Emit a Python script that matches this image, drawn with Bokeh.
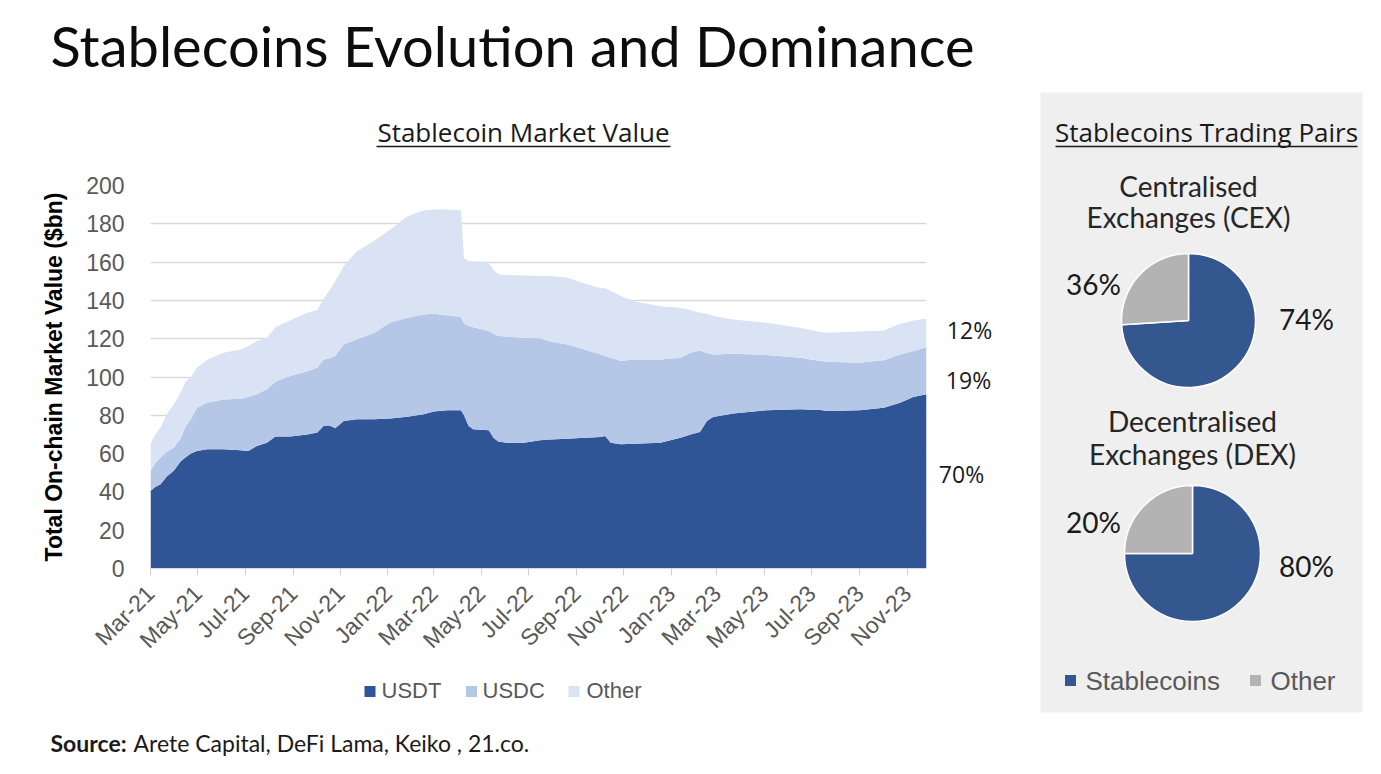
import math
import pandas as pd
from bokeh.plotting import figure
from bokeh.layouts import row, column
from bokeh.models import ColumnDataSource, Range1d, FixedTicker
from bokeh.core.properties import value
from bokeh.embed import file_html
from bokeh.resources import INLINE

# ---------------- data ----------------
dates = ["2021-03-01", "2021-03-07", "2021-03-14", "2021-03-22", "2021-03-31", "2021-04-09",
         "2021-04-15", "2021-04-22", "2021-04-30", "2021-05-13", "2021-06-03", "2021-06-25",
         "2021-07-05", "2021-07-16", "2021-07-29", "2021-08-09", "2021-08-28", "2021-09-19",
         "2021-10-02", "2021-10-10", "2021-10-19", "2021-10-25", "2021-11-05", "2021-11-22",
         "2021-12-14", "2022-01-04", "2022-01-26", "2022-02-16", "2022-03-01", "2022-03-18",
         "2022-04-05", "2022-04-09", "2022-04-15", "2022-04-21", "2022-05-11", "2022-05-17",
         "2022-05-23", "2022-06-03", "2022-06-25", "2022-07-16", "2022-07-29", "2022-08-20",
         "2022-09-06", "2022-10-02", "2022-10-08", "2022-10-15", "2022-10-28", "2022-11-14",
         "2022-12-18", "2023-01-13", "2023-01-26", "2023-02-07", "2023-02-16", "2023-02-24",
         "2023-03-22", "2023-05-04", "2023-06-16", "2023-07-12", "2023-07-23", "2023-09-01",
         "2023-10-02", "2023-10-23", "2023-11-09", "2023-11-26"]
usdt = [40.5, 42.5, 44.0, 48.0, 51.0, 56.0, 58.0, 60.0, 61.4, 62.3, 62.3, 61.7,
        61.4, 64.0, 65.7, 68.9, 68.9, 70.0, 71.0, 74.4, 74.4, 73.2, 77.0, 78.0,
        78.0, 78.3, 79.3, 80.5, 82.0, 82.6, 82.6, 80.0, 74.4, 72.7, 72.2, 68.3,
        66.3, 65.7, 65.7, 67.0, 67.3, 67.7, 68.2, 68.7, 69.2, 65.7, 64.9, 65.2,
        65.7, 68.3, 70.0, 71.3, 77.0, 79.1, 80.9, 82.6, 83.1, 82.8, 82.3, 82.6,
        84.0, 86.6, 89.5, 91.0]
usdc = [10.5, 12.5, 14.0, 13.0, 12.0, 12.0, 16.0, 18.0, 22.6, 24.3, 26.0, 27.0,
        28.1, 27.0, 27.9, 28.6, 31.6, 33.0, 34.0, 34.6, 35.6, 37.8, 40.0, 41.7,
        45.0, 50.2, 51.7, 52.2, 51.0, 49.7, 48.7, 48.0, 52.2, 53.3, 51.8, 54.2,
        55.2, 55.3, 54.8, 53.2, 51.2, 49.3, 46.8, 43.1, 41.8, 44.3, 43.4, 44.0,
        43.5, 41.7, 42.7, 42.6, 35.5, 32.7, 31.3, 28.9, 26.9, 25.5, 25.7, 24.9,
        24.7, 25.2, 24.0, 24.7]
other = [14.0, 15.0, 15.6, 19.5, 22.7, 24.0, 23.5, 22.0, 21.0, 22.4, 24.4, 25.7,
         26.5, 27.8, 26.9, 28.5, 29.1, 30.6, 30.0, 32.0, 36.0, 39.0, 41.0, 46.0,
         48.0, 48.5, 53.0, 54.3, 54.5, 55.2, 55.8, 34.0, 33.9, 34.5, 35.7, 33.5,
         32.1, 32.3, 32.5, 32.5, 34.2, 35.0, 34.5, 34.5, 35.3, 35.0, 34.0, 30.3,
         27.8, 26.2, 22.3, 19.7, 20.5, 20.0, 17.8, 16.8, 15.7, 15.2, 15.1, 16.2,
         15.6, 16.0, 16.0, 14.9]
series_names = ["USDT", "USDC", "Other"]
end_share_labels = ["70%", "19%", "12%"]
tick_labels = ["Mar-21", "May-21", "Jul-21", "Sep-21", "Nov-21", "Jan-22", "Mar-22", "May-22",
               "Jul-22", "Sep-22", "Nov-22", "Jan-23", "Mar-23", "May-23", "Jul-23", "Sep-23",
               "Nov-23"]
y_ticks = [0, 20, 40, 60, 80, 100, 120, 140, 160, 180, 200]

pie_titles = [["Centralised", "Exchanges (CEX)"], ["Decentralised", "Exchanges (DEX)"]]
pie_categories = ["Stablecoins", "Other"]
pie_shares = [[74, 26], [75, 25]]                    # slice sizes as drawn
pie_value_labels = [["74%", "36%"], ["80%", "20%"]]  # labels as printed

# ---------------- styles ----------------
C_USDT, C_USDC, C_OTHER = "#2f5597", "#b4c7e7", "#dae3f3"
SERIES_COLORS = [C_USDT, C_USDC, C_OTHER]
C_PIE_BLUE, C_PIE_GRAY = "#34578f", "#b3b3b3"
GRAY_TXT = "#595959"
ARIAL = "Liberation Sans"


def blank(w, h, xr, yr, **kw):
    f = figure(width=w, height=h, x_range=Range1d(*xr), y_range=Range1d(*yr),
               x_axis_type=None, y_axis_type=None, output_backend="svg",
               toolbar_location=None, min_border=0, **kw)
    f.grid.visible = False
    f.outline_line_color = None
    f.frame_align = False
    return f


LEFT_W = 1038

# ---------------- header ----------------
head = blank(LEFT_W, 160, (0, LEFT_W), (0, 160))
head.text(x=[50], y=[115], text=["Stablecoins Evolution and Dominance"],
          text_font=value("Lato"), text_font_size="56px", text_color="#0d0d0d",
          text_baseline="middle", text_align="left")
head.text(x=[523], y=[29], text=["Stablecoin Market Value"],
          text_font=value("Open Sans"), text_font_size="26px", text_color="#1a1a1a",
          text_baseline="middle", text_align="center")
head.line(x=[376, 670], y=[14, 14], line_color="#1a1a1a", line_width=1.3)

# ---------------- area chart ----------------
df = pd.DataFrame({"date": pd.to_datetime(dates), "usdt": usdt, "usdc": usdc, "other": other})
src = ColumnDataSource(df)
x0 = df["date"].iloc[0]
x1 = df["date"].iloc[-1]
CH_H = 510
BOT = 102
p = figure(width=930, height=CH_H, x_axis_type="datetime",
           x_range=Range1d(x0, x1), y_range=Range1d(0, 200),
           output_backend="svg", toolbar_location=None,
           min_border_left=150, min_border_right=4, min_border_top=25, min_border_bottom=BOT)
p.frame_align = False
p.outline_line_color = None
rs = p.varea_stack(stackers=["usdt", "usdc", "other"], x="date",
                   color=SERIES_COLORS, source=src)

tick_ts = [pd.to_datetime(t, format="%b-%y") for t in tick_labels]
tick_ms = [int(t.value // 10**6) for t in tick_ts]
p.xaxis.ticker = FixedTicker(ticks=tick_ms)
p.xaxis.major_label_overrides = {ms: lab for ms, lab in zip(tick_ms, tick_labels)}
p.xaxis.major_label_orientation = math.pi / 4
p.xaxis.major_label_text_font = ARIAL
p.xaxis.major_label_text_font_size = "23px"
p.xaxis.major_label_text_color = GRAY_TXT
p.xaxis.major_label_standoff = 14
p.xaxis.axis_line_color = "#d9d9d9"
p.xaxis.major_tick_line_color = "#d0d0d0"
p.xaxis.major_tick_out = 7
p.xaxis.major_tick_in = 0
p.xaxis.minor_tick_line_color = None

p.yaxis.ticker = FixedTicker(ticks=y_ticks)
p.yaxis.major_label_text_font = ARIAL
p.yaxis.major_label_text_font_size = "23px"
p.yaxis.major_label_text_color = GRAY_TXT
p.yaxis.major_label_standoff = 20
p.yaxis.axis_line_color = None
p.yaxis.major_tick_line_color = None
p.yaxis.minor_tick_line_color = None
p.yaxis.axis_label = "Total On-chain Market Value ($bn)"
p.yaxis.axis_label_text_font = ARIAL
p.yaxis.axis_label_text_font_style = "bold"
p.yaxis.axis_label_text_font_size = "23px"
p.yaxis.axis_label_text_color = "#000000"
p.yaxis.axis_label_standoff = 16
p.xgrid.visible = False
p.ygrid.grid_line_color = "#d9d9d9"
p.ygrid.grid_line_width = 1.3

# side strip with the latest shares (same vertical scale as the chart)
side = figure(width=LEFT_W - 930, height=CH_H, x_range=Range1d(0, LEFT_W - 930),
              y_range=Range1d(0, 200), x_axis_type=None, y_axis_type=None,
              output_backend="svg", toolbar_location=None,
              min_border_left=0, min_border_right=0, min_border_top=25, min_border_bottom=BOT)
side.frame_align = False
side.grid.visible = False
side.outline_line_color = None
label_y = [49.5, 98.2, 124.3]
label_x = [31, 38, 39]
side.text(x=label_x, y=label_y, text=end_share_labels, text_font=value("Open Sans"),
          text_font_size="23px", text_color="#1a1a1a", text_baseline="middle",
          text_align="center")

# legend strip
leg = blank(LEFT_W, 48, (0, LEFT_W), (0, 48))
leg.rect(x=[369.5, 471, 573.5], y=[27, 27, 27], width=11, height=11,
         fill_color=SERIES_COLORS, line_color=None)
leg.text(x=[381, 482, 586], y=[28, 28, 28], text=series_names, text_font=value(ARIAL),
         text_font_size="22px", text_color=GRAY_TXT, text_baseline="middle", text_align="left")

# ---------------- footer ----------------
foot = blank(LEFT_W, 56, (0, LEFT_W), (0, 56))
foot.text(x=[50], y=[32], text=["Source:"], text_font=value("Lato"), text_font_size="23px",
          text_font_style="bold", text_color="#1a1a1a", text_baseline="middle", text_align="left")
foot.text(x=[133], y=[32], text=["Arete Capital, DeFi Lama, Keiko , 21.co."],
          text_font=value("Lato"), text_font_size="23px", text_color="#1a1a1a",
          text_baseline="middle", text_align="left")

# ---------------- right panel ----------------
rp = blank(343, 774, (0, 322), (0, 620))
rp.min_border_left = 2
rp.min_border_right = 19
rp.min_border_top = 92
rp.min_border_bottom = 62
rp.background_fill_color = "#efefef"
rp.border_fill_color = "white"

rp.text(x=[166], y=[581], text=["Stablecoins Trading Pairs"], text_font=value("Open Sans"),
        text_font_size="26px", text_color="#1a1a1a", text_baseline="middle", text_align="center")
rp.line(x=[15, 317], y=[566, 566], line_color="#1a1a1a", line_width=1.3)

centers = [(148, 392), (152, 159)]
radii = [67, 68]
title_y = [(527, 496), (292, 259)]
lbl_pos = [[(266, 394), (53, 429)], [(266, 147), (53, 191)]]
for i in range(2):
    cx, cy = centers[i]
    sh = pie_shares[i]
    tot = float(sum(sh))
    other_end = math.pi / 2 + 2 * math.pi * sh[1] / tot
    rp.wedge(x=[cx, cx], y=[cy, cy], radius=radii[i],
             start_angle=[other_end, math.pi / 2], end_angle=[math.pi / 2 + 2 * math.pi, other_end],
             fill_color=[C_PIE_BLUE, C_PIE_GRAY], line_color="white", line_width=1.5)
    for t, yy in zip(pie_titles[i], title_y[i]):
        rp.text(x=[cx], y=[yy], text=[t], text_font=value("Lato"), text_font_size="28px",
                text_color="#262626", text_baseline="middle", text_align="center")
    for lab, (lx, ly) in zip(pie_value_labels[i], lbl_pos[i]):
        rp.text(x=[lx], y=[ly], text=[lab], text_font=value("Lato"), text_font_size="28px",
                text_color="#1a1a1a", text_baseline="middle", text_align="center")

rp.rect(x=[30, 215], y=[32, 32], width=11, height=11, fill_color=[C_PIE_BLUE, C_PIE_GRAY],
        line_color=None)
rp.text(x=[45, 230], y=[32, 32], text=pie_categories, text_font=value(ARIAL),
        text_font_size="26px", text_color=GRAY_TXT, text_baseline="middle", text_align="left")

left = column(head, row(p, side, spacing=0), leg, foot, spacing=0)
layout = row(left, rp, spacing=0)
open("out.html", "w").write(file_html(layout, INLINE))
